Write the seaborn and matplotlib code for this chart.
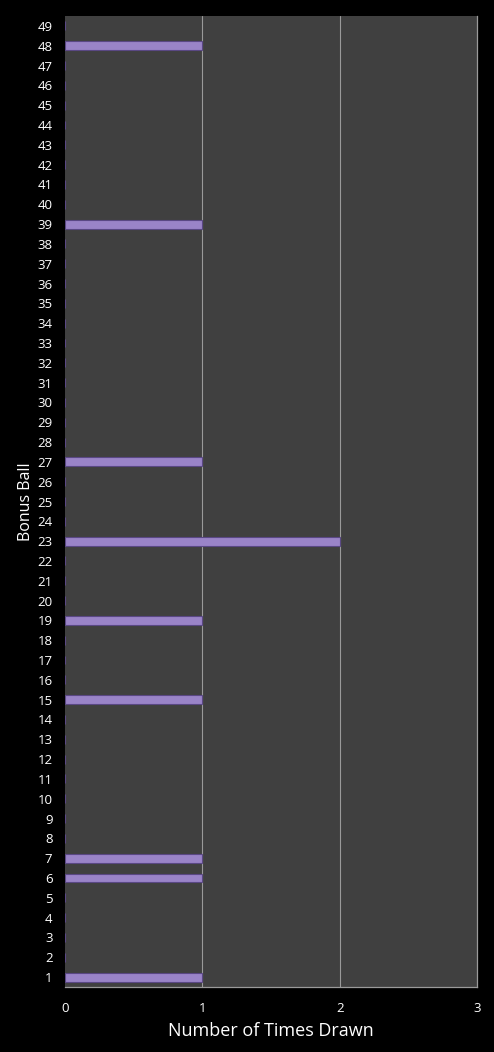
import matplotlib
matplotlib.use("Agg")
import matplotlib.pyplot as plt
import seaborn as sns
import pandas as pd

balls = list(range(1, 50))
drawn_balls = [1, 6, 7, 15, 19, 23, 27, 39, 48]
drawn_counts = [1, 1, 1, 1, 1, 2, 1, 1, 1]
x_ticks = [0, 1, 2, 3]

count_map = dict(zip(drawn_balls, drawn_counts))
df = pd.DataFrame({"ball": [str(b) for b in balls],
                   "count": [count_map.get(b, 0) for b in balls]})
order = [str(b) for b in reversed(balls)]

sns.set_style("dark")
plt.rcParams['font.family'] = ['Open Sans', 'DejaVu Sans']

fig = plt.figure(figsize=(4.94, 10.52), dpi=100)
fig.patch.set_facecolor("black")
ax = fig.add_axes([65/494, 1-987/1052, 412/494, 971/1052])
ax.set_facecolor("#404040")

sns.barplot(data=df, x="count", y="ball", order=order, orient="h",
            color="#9a84c8", edgecolor="#5a4884", linewidth=0.8,
            width=0.45, saturation=1, ax=ax)

ax.set_xlim(0, 3)
ax.set_xticks(x_ticks)
ax.set_xticklabels([str(t) for t in x_ticks])
ax.grid(False)
for v in [1, 2]:
    ax.axvline(v, color="#9a9a9a", linewidth=0.8, zorder=0.5)

for side in ["top", "left"]:
    ax.spines[side].set_visible(False)
for side in ["bottom", "right"]:
    ax.spines[side].set_visible(True)
    ax.spines[side].set_color("#9a9a9a")
    ax.spines[side].set_linewidth(0.9)

ax.tick_params(axis="both", colors="white", labelsize=9.5, length=0)
ax.tick_params(axis="x", pad=11)
ax.tick_params(axis="y", pad=9)
ax.set_xlabel("Number of Times Drawn", color="white", fontsize=13, labelpad=5)
ax.set_ylabel("Bonus Ball", color="white", fontsize=11.5, labelpad=2)

fig.savefig("out.png", dpi=100, facecolor="black")
